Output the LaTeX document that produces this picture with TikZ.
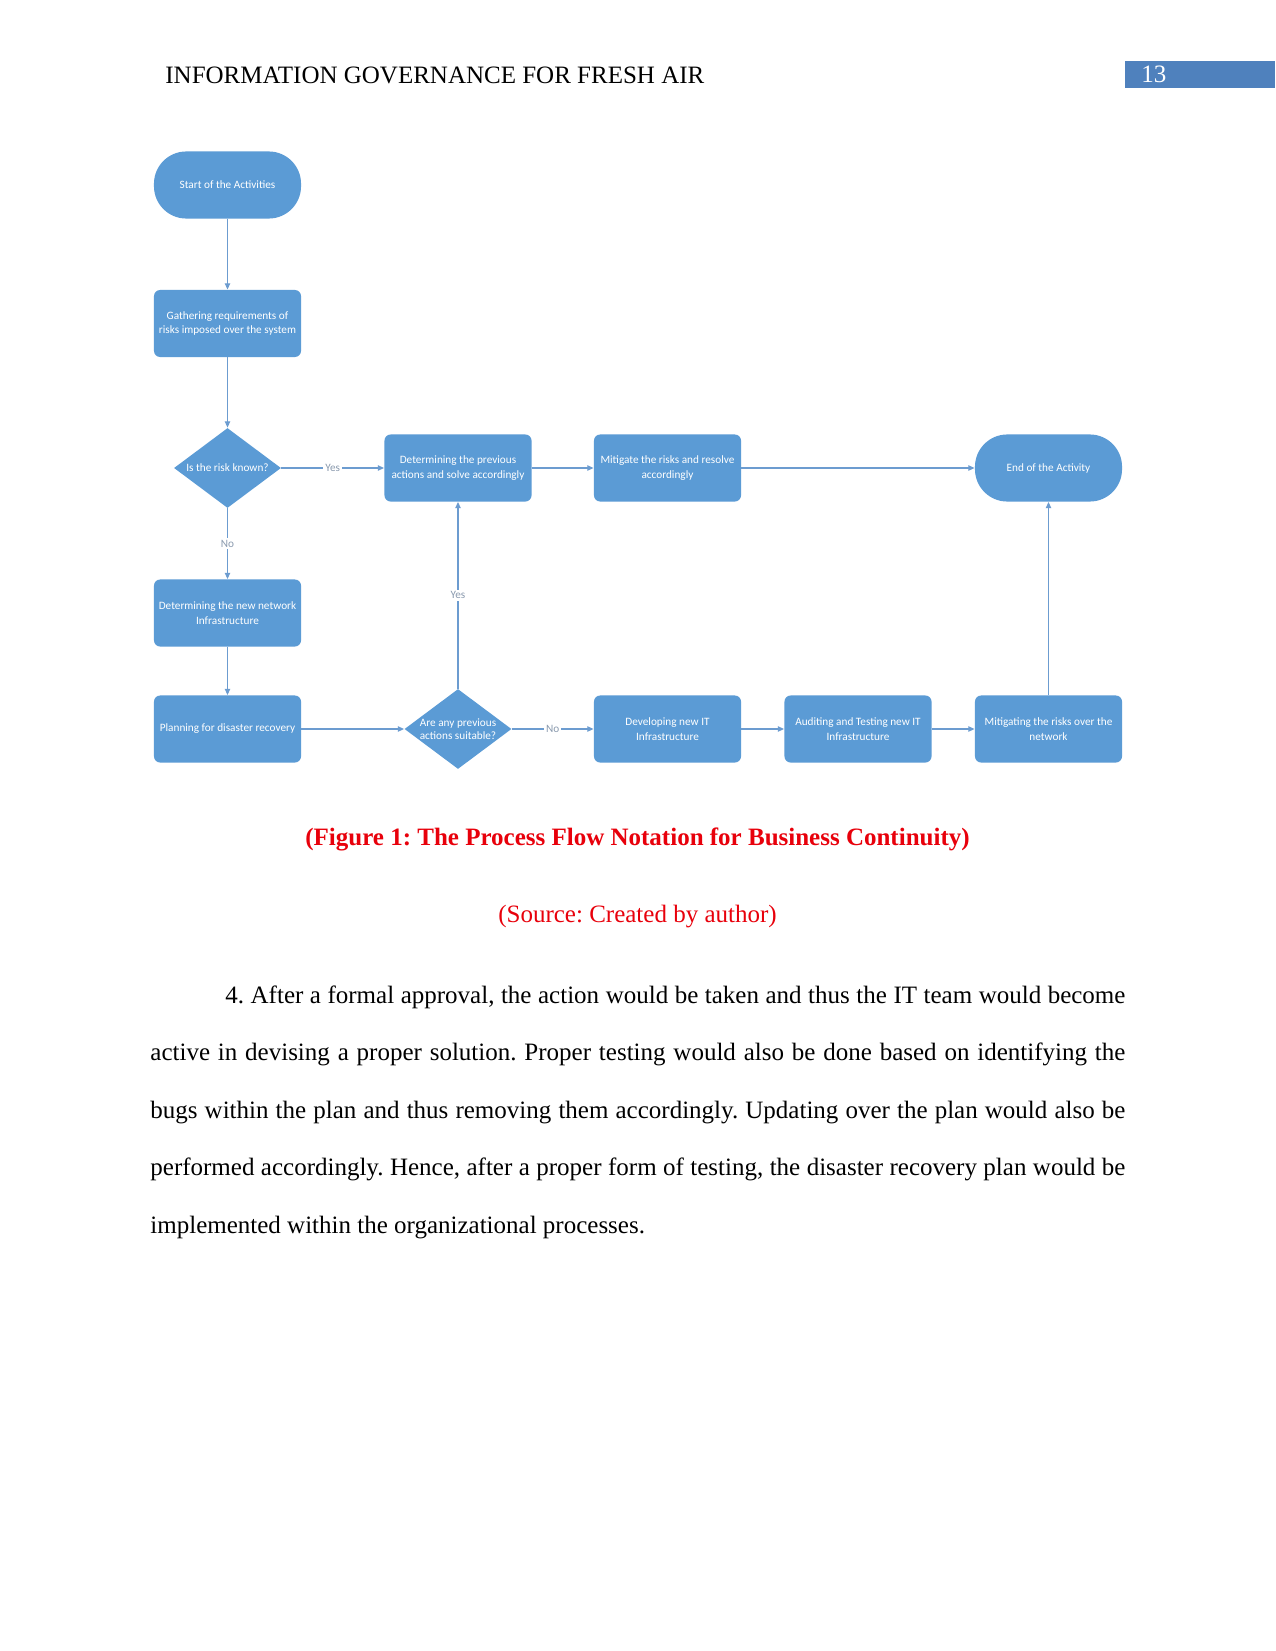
\documentclass[tikz,border=0pt]{standalone}
\usepackage{fontspec}
\setmainfont{Liberation Serif}
\newfontfamily\boxfont{Carlito}
\usepackage{xcolor}
\usetikzlibrary{arrows.meta,positioning,shapes.geometric}
\definecolor{boxblue}{HTML}{5B9BD5}
\definecolor{linkblue}{HTML}{6C9CD0}
\definecolor{labgray}{HTML}{8A9AAE}
\definecolor{pageblue}{HTML}{4F81BD}
\definecolor{capred}{HTML}{E8000B}
\frenchspacing

\begin{document}
\begin{tikzpicture}[x=0.48pt, y=-0.48pt,
  stepbox/.style={fill=boxblue, rounded corners=3pt, minimum width=70.6pt, minimum height=32.2pt, inner sep=1pt, font=\boxfont\fontsize{5.4}{6.9}\selectfont, text=white, align=center},
  term/.style={stepbox, rounded corners=15.5pt},
  choice/.style={diamond, fill=boxblue, minimum width=51.4pt, minimum height=38.4pt, aspect=1.34, inner sep=0pt, inner xsep=-3pt, font=\boxfont\fontsize{5.4}{6.4}\selectfont, text=white, align=center},
  link/.style={-{Triangle[length=3pt,width=2.6pt]}, linkblue, line width=0.5pt},
  ans/.style={fill=white, text=labgray, font=\boxfont\fontsize{5.4}{6}\selectfont, inner sep=1pt}]
  \fill[white] (0,0) rectangle (1275,1651);
  \useasboundingbox (0,0) rectangle (1275,1651);
  % page header
  \node[anchor=base west, inner sep=0pt, font=\fontsize{12}{14}\selectfont] (hdr) at (165,84) {INFORMATION GOVERNANCE FOR FRESH AIR};
  \fill[pageblue] (1125,61) rectangle (1275,88);
  \node[anchor=base west, inner sep=0pt, text=white, font=\fontsize{12}{14}\selectfont] (pagenum) at (1141,83) {13};
  % flow chart
  \node[term] (start) at (227.5,185) {Start of the Activities};
  \node[stepbox] (gather) at (227.5,323.5) {Gathering requirements of\\risks imposed over the system};
  \node[choice] (known) at (227.5,468) {Is the risk known?};
  \node[stepbox] (prev) at (458,468) {Determining the previous\\actions and solve accordingly};
  \node[stepbox] (mitig) at (667.5,468) {Mitigate the risks and resolve\\accordingly};
  \node[term] (finish) at (1048.5,468) {End of the Activity};
  \node[stepbox] (newnet) at (227.5,613) {Determining the new network\\Infrastructure};
  \node[stepbox] (plan) at (227.5,729) {Planning for disaster recovery};
  \node[choice] (suit) at (458,729) {Are any previous\\actions suitable?};
  \node[stepbox] (devel) at (667.5,729) {Developing new IT\\Infrastructure};
  \node[stepbox] (audit) at (858,729) {Auditing and Testing new IT\\Infrastructure};
  \node[stepbox] (netrisk) at (1048.5,729) {Mitigating the risks over the\\network};
  \draw[link] (start) -- (gather);
  \draw[link] (gather) -- (known);
  \draw[link] (known) -- node[ans] {Yes} (prev);
  \draw[link] (known) -- node[ans] {No} (newnet);
  \draw[link] (newnet) -- (plan);
  \draw[link] (plan) -- (suit);
  \draw[link] (suit) -- node[ans] {Yes} (prev);
  \draw[link] (suit) -- node[ans] {No} (devel);
  \draw[link] (prev) -- (mitig);
  \draw[link] (mitig) -- (finish);
  \draw[link] (devel) -- (audit);
  \draw[link] (audit) -- (netrisk);
  \draw[link] (netrisk) -- (finish);
  % caption and text
  \node[text=capred, font=\fontsize{12}{14}\selectfont\bfseries] (fig) at (637.5,839) {(Figure 1: The Process Flow Notation for Business Continuity)};
  \node[text=capred, font=\fontsize{12}{14}\selectfont] (src) at (637.5,917) {(Source: Created by author)};
  \node[anchor=north west, inner sep=0pt, text width=468pt, align=justify, font=\fontsize{12}{27.6}\selectfont] (para) at (150,985) {\tolerance=9999\hspace*{36pt}4. After a formal approval, the action would be taken and thus the IT team would become\linebreak active in devising a proper solution. Proper testing would also be done based on identifying the\linebreak bugs within the plan and thus removing them accordingly. Updating over the plan would also be\linebreak performed accordingly. Hence, after a proper form of testing, the disaster recovery plan would be\linebreak implemented within the organizational processes.};
\end{tikzpicture}
\end{document}
